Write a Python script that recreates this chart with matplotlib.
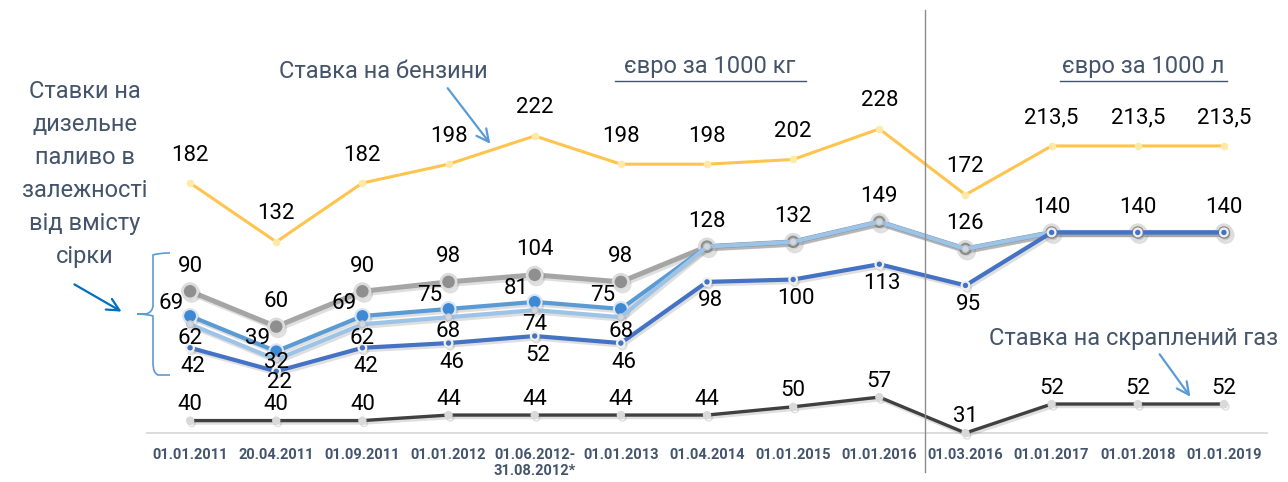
import matplotlib
matplotlib.use("Agg")
import matplotlib.pyplot as plt
import matplotlib.patheffects as pe
from matplotlib.path import Path
from matplotlib.patches import PathPatch

plt.rcParams['font.family'] = ['Roboto', 'DejaVu Sans']

# Data
dates = ['01.01.2011', '20.04.2011', '01.09.2011', '01.01.2012', '01.06.2012-\n31.08.2012*',
         '01.01.2013', '01.04.2014', '01.01.2015', '01.01.2016', '01.03.2016',
         '01.01.2017', '01.01.2018', '01.01.2019']
petrol = [182, 132, 182, 198, 222, 198, 198, 202, 228, 172, 213.5, 213.5, 213.5]
diesel_gray = [90, 60, 90, 98, 104, 98, 128, 132, 149, 126, 140, 140, 140]
diesel_mid = [69, 39, 69, 75, 81, 75, 128, 132, 149, 126, 140, 140, 140]
diesel_light = [62, 32, 62, 68, 74, 68, 128, 132, 149, 126, 140, 140, 140]
diesel_dark = [42, 22, 42, 46, 52, 46, 98, 100, 113, 95, 140, 140, 140]
lpg = [40, 40, 40, 44, 44, 44, 44, 50, 57, 31, 52, 52, 52]

txt_col = '#44546a'
PX = 0.72  # points per pixel at dpi 100
shadow = [pe.SimpleLineShadow(offset=(1.2, -1.8), shadow_color='#808080', alpha=0.25), pe.Normal()]

fig = plt.figure(figsize=(12.88, 4.82), dpi=100)
ax = fig.add_axes([147/1288, 1-433/482, 1120/1288, 423/482])
ax2 = ax.twinx()
x = list(range(len(dates)))


def fmt(v):
    return ('%g' % v).replace('.', ',')


def labels(a, xs, vals, dy, dx=0, ha='center', n=None, special=None):
    n = len(vals) if n is None else n
    special = special or {}
    for i in range(n):
        d = special.get(i, dy)
        a.annotate(fmt(vals[i]), (xs[i], vals[i]), xytext=(dx*PX, d*PX),
                   textcoords='offset points', ha=ha, va='center',
                   fontsize=16, color='black', zorder=20)


# petrol
ax.plot(x, petrol, color='#ffc44d', lw=2.2, marker='o', ms=4.5,
        mfc='#ffe9a8', mec='#ffe9a8', zorder=3)
labels(ax, x, petrol, 28)

# diesel series
ax.plot(x, diesel_gray, color='#a5a5a5', lw=3.6, marker='o', ms=11,
        mfc='#8f8f8f', mec='#dcdcdc', mew=2, zorder=4, path_effects=shadow)
labels(ax, x, diesel_gray, 25)
ax.plot(x, diesel_mid, color='#5b9bd5', lw=3, marker='o', ms=10, markevery=range(6),
        mfc='#3f88d4', mec='#d8e5f2', mew=1.5, zorder=5, path_effects=shadow)
labels(ax, x, diesel_mid, 13, dx=-6, ha='right', n=6)
ax.plot(x, diesel_light, color='#9dc3e6', lw=3, marker='o', ms=5,
        mfc='#cfd8e2', mec='#bfbfbf', mew=0.8, zorder=6, path_effects=shadow)
labels(ax, x, diesel_light, -14, n=6, special={1: -3})
ax.plot(x, diesel_dark, color='#4472c4', lw=3, marker='o', ms=5.5,
        mfc='#4472c4', mec='#f0f0f0', mew=1.6, zorder=7, path_effects=shadow)
labels(ax, x, diesel_dark, -19, dx=3, n=10, special={1: -11})

# LPG
ax2.plot(x, lpg, color='#404040', lw=2.4, marker='o', ms=5,
         mfc='#d9d9d9', mec='#d9d9d9', zorder=3, clip_on=False, path_effects=shadow)
labels(ax2, x, lpg, 16)

ax.set_xlim(-0.5, 12.5)
ax.set_ylim(-30.4, 329)
ax2.set_ylim(31, 337.5)
for a in (ax, ax2):
    for s in ('top', 'left', 'right'):
        a.spines[s].set_visible(False)
    a.set_yticks([])
ax.spines['bottom'].set_color('#d9d9d9')
ax.spines['bottom'].set_linewidth(1.3)
ax2.spines['bottom'].set_visible(False)
ax.set_xticks(x, dates)
ax.tick_params(axis='x', length=0, pad=11, labelsize=10.5, labelcolor=txt_col)
for t in ax.get_xticklabels():
    t.set_fontweight('bold')
    t.set_linespacing(1.2)
    t.set_verticalalignment('top')

# overlay in pixel coordinates for annotations
ov = fig.add_axes([0, 0, 1, 1], zorder=10)
ov.set_xlim(0, 1288)
ov.set_ylim(482, 0)
ov.axis('off')

ov.plot([925, 925], [10, 472], color='#8c8c8c', lw=1)

ov.text(85, 174, 'Ставки на\nдизельне\nпаливо в\nзалежності\nвід вмісту\nсірки',
        ha='center', va='center', fontsize=17, color=txt_col, linespacing=1.55)
ov.text(383, 72, 'Ставка на бензини', ha='center', va='center', fontsize=17, color=txt_col)
ov.text(710, 66, 'євро за 1000 кг', ha='center', va='center', fontsize=17, color=txt_col)
ov.plot([615, 806], [81, 81], color=txt_col, lw=1)
ov.text(1143, 66, 'євро за 1000 л', ha='center', va='center', fontsize=17, color=txt_col)
ov.plot([1060, 1227], [81, 81], color=txt_col, lw=1)
ov.text(1134, 338, 'Ставка на скраплений газ', ha='center', va='center', fontsize=17, color=txt_col)

arrow = dict(arrowstyle='->', lw=1.6, mutation_scale=22)
ov.annotate('', xy=(492, 146), xytext=(446, 86), arrowprops=dict(color='#5b9bd5', **arrow))
ov.annotate('', xy=(124, 313), xytext=(72, 283), arrowprops=dict(color='#0070c0', **arrow))
ov.annotate('', xy=(1192, 399), xytext=(1158, 352), arrowprops=dict(color='#5b9bd5', **arrow))

# brace
verts = [(170, 253), (158, 253), (153, 255), (153, 265),
         (153, 305), (153, 312), (146, 314), (137, 314),
         (146, 314), (153, 316), (153, 323),
         (153, 363), (153, 373), (158, 375), (170, 375)]
codes = [Path.MOVETO, Path.CURVE3, Path.CURVE3, Path.LINETO,
         Path.LINETO, Path.CURVE3, Path.CURVE3, Path.LINETO,
         Path.CURVE3, Path.CURVE3, Path.LINETO,
         Path.LINETO, Path.CURVE3, Path.CURVE3, Path.LINETO]
ov.add_patch(PathPatch(Path(verts, codes), fill=False, edgecolor='#5b9bd5', lw=1.2))

fig.savefig('out.png', dpi=100)
